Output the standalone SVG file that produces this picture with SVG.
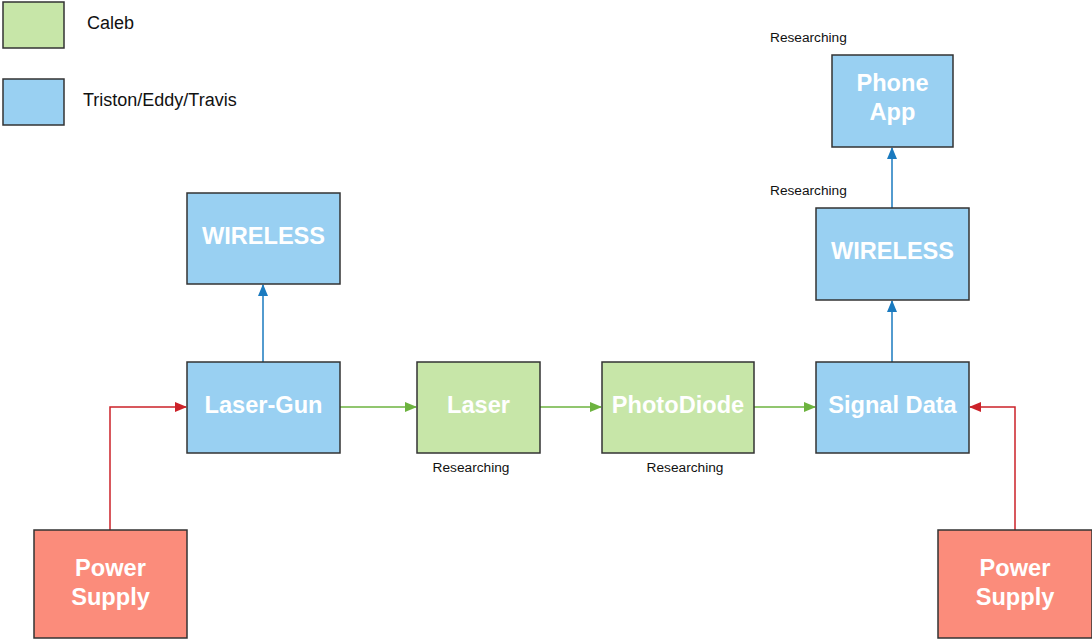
<svg xmlns="http://www.w3.org/2000/svg" width="1092" height="639" viewBox="0 0 1092 639">
<style>
.box{stroke:#333;stroke-width:1.5}
.blue{fill:#99d0f2}
.green{fill:#c7e6a8}
.red{fill:#fb8c7b}
.t{font-family:"Liberation Sans",Arial,sans-serif;font-weight:bold;font-size:23.6px;fill:#fff;text-anchor:middle}
.s{font-family:"Liberation Sans",Arial,sans-serif;font-size:13.7px;fill:#111}
.l{font-family:"Liberation Sans",Arial,sans-serif;font-size:18px;fill:#111}
.cg{stroke:#6db33f;stroke-width:1.5;fill:none}
.cb{stroke:#1a7abf;stroke-width:1.5;fill:none}
.cr{stroke:#cc2229;stroke-width:1.5;fill:none}
</style>
<defs>
<marker id="ag" markerWidth="12" markerHeight="12" refX="11" refY="6" orient="auto" markerUnits="userSpaceOnUse" viewBox="0 0 12 12"><path d="M0,1 L12,6 L0,11 Z" fill="#6db33f"/></marker>
<marker id="ab" markerWidth="12" markerHeight="12" refX="11" refY="6" orient="auto" markerUnits="userSpaceOnUse" viewBox="0 0 12 12"><path d="M0,1 L12,6 L0,11 Z" fill="#1a7abf"/></marker>
<marker id="ar" markerWidth="12" markerHeight="12" refX="11" refY="6" orient="auto" markerUnits="userSpaceOnUse" viewBox="0 0 12 12"><path d="M0,1 L12,6 L0,11 Z" fill="#cc2229"/></marker>
</defs>
<rect width="1092" height="639" fill="#fff"/>
<g id="legend">
<rect class="box green" x="3" y="2" width="61" height="46"/>
<text class="l" x="87" y="29">Caleb</text>
<rect class="box blue" x="3" y="79" width="61" height="46"/>
<text class="l" x="83" y="106">Triston/Eddy/Travis</text>
</g>
<g id="connectors">
<path class="cr" d="M110,530 V407 H186" marker-end="url(#ar)"/>
<path class="cr" d="M1015,530 V407 H970" marker-end="url(#ar)"/>
<path class="cg" d="M340,407 H416" marker-end="url(#ag)"/>
<path class="cg" d="M540,407 H601" marker-end="url(#ag)"/>
<path class="cg" d="M754,407 H815" marker-end="url(#ag)"/>
<path class="cb" d="M263,362 V285" marker-end="url(#ab)"/>
<path class="cb" d="M892,362 V301" marker-end="url(#ab)"/>
<path class="cb" d="M892,208 V148" marker-end="url(#ab)"/>
</g>
<g id="wireless1"><rect class="box blue" x="187" y="193" width="153" height="91"/><text class="t" x="263.5" y="244">WIRELESS</text></g>
<g id="lasergun"><rect class="box blue" x="187" y="362" width="153" height="91"/><text class="t" x="263.5" y="413">Laser-Gun</text></g>
<g id="laser"><rect class="box green" x="417" y="362" width="123" height="91"/><text class="t" x="478.5" y="413">Laser</text><text class="s" x="471" y="472" text-anchor="middle">Researching</text></g>
<g id="photodiode"><rect class="box green" x="602" y="362" width="152" height="91"/><text class="t" x="678" y="413">PhotoDiode</text><text class="s" x="685" y="472" text-anchor="middle">Researching</text></g>
<g id="signaldata"><rect class="box blue" x="816" y="362" width="153" height="91"/><text class="t" x="892.5" y="413">Signal Data</text></g>
<g id="wireless2"><rect class="box blue" x="816" y="208" width="153" height="92"/><text class="t" x="892.5" y="259">WIRELESS</text><text class="s" x="770" y="195">Researching</text></g>
<g id="phoneapp"><rect class="box blue" x="832" y="55" width="121" height="92"/><text class="t" x="892.5" y="91">Phone</text><text class="t" x="892.5" y="120">App</text><text class="s" x="770" y="42">Researching</text></g>
<g id="power1"><rect class="box red" x="34" y="530" width="153" height="108"/><text class="t" x="110.5" y="576">Power</text><text class="t" x="110.5" y="605">Supply</text></g>
<g id="power2"><rect class="box red" x="938" y="530" width="154" height="108"/><text class="t" x="1015" y="576">Power</text><text class="t" x="1015" y="605">Supply</text></g>
</svg>
